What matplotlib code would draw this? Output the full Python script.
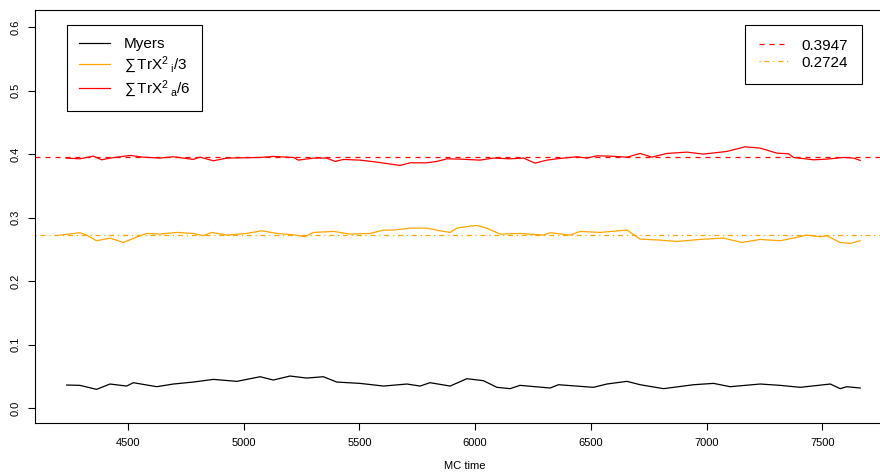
import matplotlib
matplotlib.use('Agg')
import matplotlib.pyplot as plt
from matplotlib.lines import Line2D

plt.rcParams['font.family'] = ['Liberation Sans', 'DejaVu Sans']
plt.rcParams['mathtext.fontset'] = 'custom'
plt.rcParams['mathtext.rm'] = 'Liberation Sans'
plt.rcParams['mathtext.it'] = 'Liberation Sans'
plt.rcParams['mathtext.default'] = 'regular'

# values
red_x = [4232, 4292, 4350, 4386, 4422, 4509, 4566, 4638, 4696, 4782, 4811, 4869,
         4927, 5071, 5128, 5215, 5236, 5301, 5359, 5395, 5431, 5503, 5575, 5676,
         5719, 5791, 5834, 5878, 5935, 6021, 6079, 6151, 6209, 6259, 6310, 6353,
         6439, 6483, 6526, 6583, 6656, 6713, 6764, 6828, 6915, 6987, 7088, 7167,
         7232, 7304, 7354, 7376, 7463, 7520, 7592, 7635, 7664]
red_y = [0.3937, 0.3926, 0.3968, 0.3910, 0.3937, 0.3979, 0.3952, 0.3937, 0.3958,
         0.3916, 0.3952, 0.3895, 0.3937, 0.3947, 0.3963, 0.3947, 0.3905, 0.3937,
         0.3937, 0.3884, 0.3916, 0.3905, 0.3874, 0.3821, 0.3863, 0.3863, 0.3884,
         0.3926, 0.3921, 0.3905, 0.3937, 0.3926, 0.3937, 0.3858, 0.3905, 0.3926,
         0.3958, 0.3937, 0.3973, 0.3968, 0.3952, 0.4010, 0.3952, 0.4010, 0.4031,
         0.4000, 0.4042, 0.4115, 0.4094, 0.4015, 0.4005, 0.3947, 0.3910, 0.3921,
         0.3947, 0.3937, 0.3900]

orange_x = [4206, 4292, 4321, 4364, 4422, 4480, 4552, 4581, 4638, 4710, 4782, 4826,
            4862, 4927, 5013, 5078, 5143, 5215, 5265, 5301, 5388, 5460, 5546, 5604,
            5647, 5719, 5791, 5849, 5892, 5921, 5979, 6007, 6050, 6108, 6194, 6295,
            6324, 6410, 6454, 6540, 6656, 6713, 6800, 6872, 6972, 7073, 7153, 7232,
            7318, 7376, 7434, 7491, 7520, 7577, 7621, 7664]
orange_y = [0.2724, 0.2761, 0.2724, 0.2635, 0.2677, 0.2608, 0.2714, 0.2750, 0.2740,
            0.2766, 0.2750, 0.2714, 0.2766, 0.2724, 0.2750, 0.2792, 0.2750, 0.2729,
            0.2698, 0.2766, 0.2782, 0.2740, 0.2750, 0.2803, 0.2803, 0.2834, 0.2834,
            0.2792, 0.2766, 0.2834, 0.2866, 0.2876, 0.2834, 0.2740, 0.2750, 0.2724,
            0.2761, 0.2724, 0.2782, 0.2766, 0.2803, 0.2661, 0.2645, 0.2624, 0.2656,
            0.2677, 0.2608, 0.2656, 0.2635, 0.2677, 0.2724, 0.2698, 0.2714, 0.2608,
            0.2593, 0.2635]

black_x = [4235, 4292, 4364, 4422, 4494, 4523, 4624, 4696, 4782, 4869, 4970, 5071,
           5128, 5200, 5272, 5344, 5402, 5503, 5604, 5705, 5762, 5805, 5892, 5964,
           6036, 6094, 6151, 6194, 6324, 6360, 6511, 6569, 6656, 6713, 6814, 6944,
           7030, 7102, 7232, 7318, 7405, 7535, 7577, 7606, 7664]
black_y = [0.0362, 0.0357, 0.0294, 0.0378, 0.0346, 0.0399, 0.0336, 0.0378, 0.0409,
           0.0451, 0.0420, 0.0493, 0.0441, 0.0504, 0.0472, 0.0493, 0.0409, 0.0388,
           0.0346, 0.0378, 0.0346, 0.0399, 0.0346, 0.0462, 0.0430, 0.0326, 0.0305,
           0.0357, 0.0315, 0.0367, 0.0326, 0.0378, 0.0420, 0.0367, 0.0305, 0.0367,
           0.0388, 0.0336, 0.0378, 0.0357, 0.0326, 0.0378, 0.0305, 0.0336, 0.0315]

red_mean = 0.3947
orange_mean = 0.2724

fig = plt.figure(figsize=(8.8, 4.75), dpi=100)
ax = fig.add_axes([35/880, 52/475, 859/880, 413/475])

ax.plot(black_x, black_y, color='black', lw=0.9)
ax.plot(orange_x, orange_y, color='#FFA500', lw=0.9)
ax.plot(red_x, red_y, color='#FF0000', lw=0.9)
ax.axhline(red_mean, color='#FF0000', lw=0.9, ls=(0, (4, 4)))
ax.axhline(orange_mean, color='#FFA500', lw=0.9, ls=(0, (1, 3, 4, 3)))

ax.set_xlim(4098, 7810)
ax.set_ylim(-0.0236, 0.627)
ax.set_xticks([4500, 5000, 5500, 6000, 6500, 7000, 7500])
ax.set_yticks([0.0, 0.1, 0.2, 0.3, 0.4, 0.5, 0.6])
ax.set_yticklabels(['0.0', '0.1', '0.2', '0.3', '0.4', '0.5', '0.6'],
                   rotation=90, va='center')
ax.tick_params(labelsize=8, length=5, width=0.8, pad=6)
ax.tick_params(axis='y', pad=5)
for s in ax.spines.values():
    s.set_linewidth(0.8)
ax.set_xlabel('MC time', fontsize=8, labelpad=9)

h1 = [Line2D([], [], color='black', lw=0.9),
      Line2D([], [], color='#FFA500', lw=0.9),
      Line2D([], [], color='#FF0000', lw=0.9)]
l1 = [r'Myers', r'$\sum\,$TrX$^2$$\,_i$/3', r'$\sum\,$TrX$^2$$\,_a$/6']
leg1 = ax.legend(h1, l1, loc='upper left', bbox_to_anchor=(32/859, 1 - 15/413),
                 fontsize=11, frameon=True, fancybox=False, edgecolor='black',
                 framealpha=1, handlelength=2.0, borderpad=0.8,
                 labelspacing=0.2, handletextpad=0.9, borderaxespad=0)
leg1.get_frame().set_linewidth(0.8)
ax.add_artist(leg1)

h2 = [Line2D([], [], color='#FF0000', lw=0.9, ls=(0, (4, 4))),
      Line2D([], [], color='#FFA500', lw=0.9, ls=(0, (1, 3, 4, 3)))]
l2 = ['0.3947', '0.2724']
leg2 = ax.legend(h2, l2, loc='upper left', bbox_to_anchor=(710/859, 1 - 15/413),
                 fontsize=11, frameon=True, fancybox=False, edgecolor='black',
                 framealpha=1, handlelength=2.0, borderpad=0.9,
                 labelspacing=0.2, handletextpad=0.8, borderaxespad=0)
leg2.get_frame().set_linewidth(0.8)

fig.savefig('out.png', dpi=100)
